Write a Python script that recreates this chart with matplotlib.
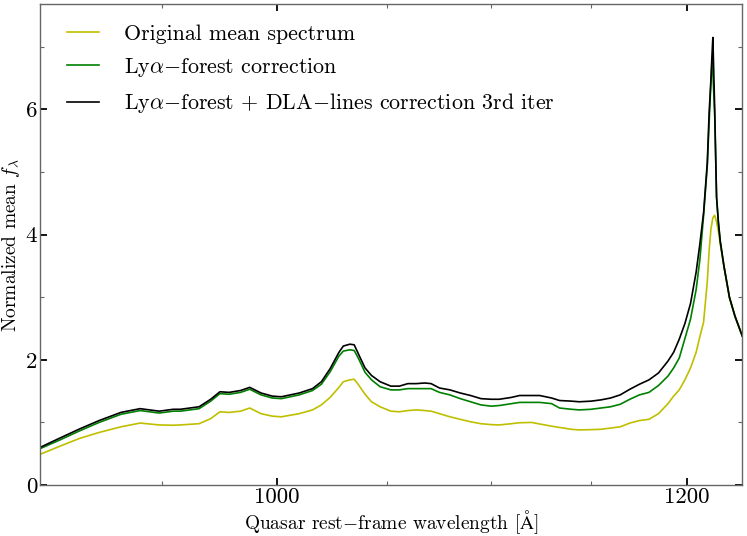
import numpy as np
import matplotlib
matplotlib.use("Agg")
import matplotlib.pyplot as plt

plt.rcParams['font.family'] = ['cmr10', 'DejaVu Serif']
plt.rcParams['mathtext.fontset'] = 'cm'
plt.rcParams['axes.formatter.use_mathtext'] = True

# rest-frame wavelength grid [A]
wave = [900, 908, 916, 924, 933, 941, 949, 955, 958, 966, 971, 975, 979, 984, 988, 993, 998,
        1002, 1010, 1016, 1020, 1024, 1028, 1030, 1033, 1035, 1037, 1040, 1043, 1047, 1052, 1056,
        1060, 1064, 1068, 1071, 1075, 1080, 1085, 1090, 1095, 1100, 1104, 1110, 1114, 1120, 1124,
        1130, 1134, 1140, 1144, 1150, 1155, 1160, 1165, 1170, 1175, 1180, 1185, 1190, 1193, 1196,
        1199, 1202, 1205, 1207, 1209, 1211, 1212, 1213, 1213.5, 1214, 1215, 1216, 1217, 1218,
        1220, 1223, 1226, 1230]

flux_orig = [0.49, 0.62, 0.745, 0.84, 0.93, 0.99, 0.96, 0.955, 0.96, 0.98, 1.06, 1.17, 1.16, 1.18, 1.23, 1.14, 1.10,
             1.09, 1.14, 1.20, 1.28, 1.40, 1.56, 1.65, 1.68, 1.69, 1.60, 1.45, 1.33, 1.25, 1.18, 1.17,
             1.19, 1.20, 1.19, 1.18, 1.14, 1.09, 1.05, 1.01, 0.98, 0.965, 0.96, 0.98, 0.995, 1.00, 0.975,
             0.94, 0.92, 0.89, 0.88, 0.885, 0.89, 0.91, 0.93, 0.99, 1.03, 1.05, 1.14, 1.30, 1.42, 1.52,
             1.68, 1.87, 2.12, 2.37, 2.6, 3.25, 3.75, 4.1, 4.18, 4.27, 4.31, 4.2, 4.05, 3.85,
             3.5, 3.0, 2.7, 2.38]

flux_lya = [0.58, 0.72, 0.865, 1.00, 1.13, 1.19, 1.15, 1.18, 1.18, 1.22, 1.34, 1.46, 1.45, 1.48, 1.53, 1.44, 1.39,
            1.38, 1.44, 1.51, 1.61, 1.81, 2.06, 2.14, 2.16, 2.15, 2.02, 1.80, 1.68, 1.57, 1.52, 1.52,
            1.54, 1.54, 1.54, 1.54, 1.48, 1.44, 1.38, 1.33, 1.28, 1.26, 1.27, 1.30, 1.32, 1.32, 1.32,
            1.30, 1.23, 1.21, 1.20, 1.21, 1.23, 1.25, 1.29, 1.37, 1.44, 1.48, 1.59, 1.74, 1.87, 2.03,
            2.34, 2.65, 3.12, 3.6, 4.3, 5.1, 5.8, 6.45, 6.75, 6.6, 5.9, 4.6, 4.18, 3.88,
            3.49, 2.99, 2.69, 2.38]

flux_dla = [0.60, 0.75, 0.896, 1.03, 1.16, 1.22, 1.18, 1.21, 1.21, 1.25, 1.37, 1.49, 1.48, 1.51, 1.56, 1.47, 1.42,
            1.41, 1.47, 1.54, 1.65, 1.86, 2.12, 2.22, 2.25, 2.24, 2.09, 1.87, 1.75, 1.65, 1.58, 1.58,
            1.62, 1.62, 1.63, 1.62, 1.55, 1.52, 1.47, 1.43, 1.38, 1.37, 1.37, 1.40, 1.43, 1.43, 1.43,
            1.39, 1.35, 1.34, 1.33, 1.34, 1.36, 1.39, 1.44, 1.53, 1.61, 1.68, 1.79, 1.98, 2.12, 2.33,
            2.58, 2.9, 3.4, 3.85, 4.35, 5.15, 5.95, 6.5, 6.85, 7.15, 6.0, 4.6, 4.2, 3.9,
            3.5, 3.0, 2.7, 2.38]

labels = ['Original mean spectrum',
          r'Ly$\alpha{-}$forest correction',
          r'Ly$\alpha{-}$forest $+$ DLA$-$lines correction 3rd iter']
colors = [(0.75, 0.75, 0.0), (0.0, 0.5, 0.0), 'k']

xticks = [1000, 1200]
xminor = [950, 1050, 1100, 1150]
yticks = [0, 2, 4, 6]
yminor = [1, 3, 5, 7]

fig = plt.figure(figsize=(7.47, 5.36), dpi=100)
ax = fig.add_axes([0.0535, 0.0951, 0.9402, 0.8969])

for flux, lab, c in zip([flux_orig, flux_lya, flux_dla], labels, colors):
    ax.plot(wave, flux, color=c, lw=1.2, label=lab)

ax.set_xscale('log')
ax.set_xlim(900, 1230)
ax.set_ylim(0, 7.68)
ax.set_xticks(xticks)
ax.set_xticklabels([str(t) for t in xticks])
ax.set_xticks(xminor, minor=True)
ax.set_xticklabels([], minor=True)
ax.set_yticks(yticks)
ax.set_yticklabels([str(t) for t in yticks])
ax.set_yticks(yminor, minor=True)

ax.tick_params(which='both', direction='in', top=True, right=True, labelsize=16.5, pad=2)
ax.tick_params(which='major', length=5, width=1.3, color='k')
ax.tick_params(which='minor', length=3, width=0.8, color='0.4')
for s in ax.spines.values():
    s.set_color('0.4')
    s.set_linewidth(1.0)

ax.set_xlabel(r'Quasar rest$-$frame wavelength [$\mathrm{\AA}$]', fontsize=14, labelpad=1)
ax.set_ylabel(r'Normalized mean $f_\lambda$', fontsize=14, labelpad=3)

ax.legend(loc='upper left', bbox_to_anchor=(0.0128, 0.995), frameon=False, fontsize=15.8,
          handlelength=1.5, handletextpad=1.1, labelspacing=0.56, borderaxespad=0.4)

fig.savefig('out.png', dpi=100)
